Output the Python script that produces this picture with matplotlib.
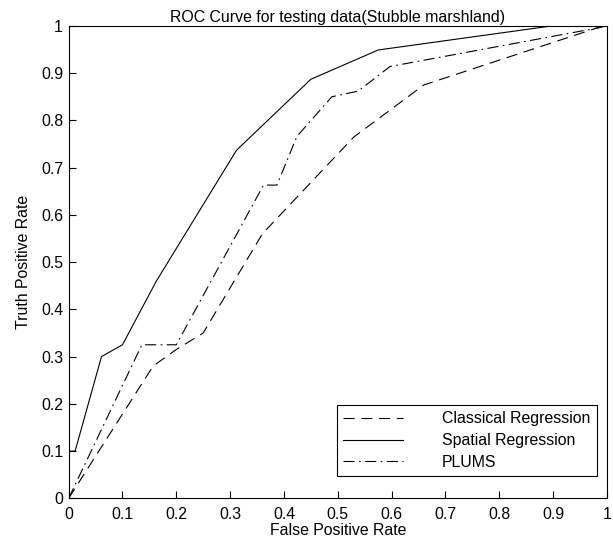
import matplotlib
matplotlib.use('Agg')
import matplotlib.pyplot as plt

plt.rcParams['font.family'] = ['Liberation Sans', 'DejaVu Sans']

# ── data ───────────────────────────────────────────────
classical_fpr = [0, 0.157, 0.2, 0.25, 0.36, 0.53, 0.66, 0.98, 1.0]
classical_tpr = [0, 0.28, 0.315, 0.35, 0.56, 0.765, 0.875, 0.995, 1.0]

spatial_fpr = [0, 0, 0.012, 0.061, 0.1, 0.163, 0.312, 0.45, 0.575, 0.898, 1.0]
spatial_tpr = [0, 0.1, 0.1, 0.3, 0.325, 0.46, 0.737, 0.887, 0.949, 1.0, 1.0]

plums_fpr = [0, 0.136, 0.2, 0.362, 0.387, 0.424, 0.489, 0.538, 0.597, 0.98, 1.0]
plums_tpr = [0, 0.325, 0.325, 0.663, 0.663, 0.766, 0.85, 0.862, 0.914, 0.995, 1.0]

ticks = [0, 0.1, 0.2, 0.3, 0.4, 0.5, 0.6, 0.7, 0.8, 0.9, 1]
tick_labels = ['0', '0.1', '0.2', '0.3', '0.4', '0.5', '0.6', '0.7', '0.8', '0.9', '1']

FS = 11.4
LW = 0.8

fig = plt.figure(figsize=(6.13, 5.43), dpi=100)
ax = fig.add_axes([0.112, 0.0823, 0.878, 0.870])

ax.plot(classical_fpr, classical_tpr, color='black', lw=LW,
        dashes=(10, 6), label='Classical Regression')
ax.plot(spatial_fpr, spatial_tpr, color='black', lw=LW, ls='-',
        label='Spatial Regression')
ax.plot(plums_fpr, plums_tpr, color='black', lw=LW,
        dashes=(10, 4, 1.5, 4), label='PLUMS')

ax.set_xlim(0, 1)
ax.set_ylim(0, 1)
ax.set_xticks(ticks)
ax.set_xticklabels(tick_labels)
ax.set_yticks(ticks)
ax.set_yticklabels(tick_labels)
ax.tick_params(direction='in', length=5, width=0.8, labelsize=FS)
ax.tick_params(axis='x', pad=6)
ax.tick_params(axis='y', pad=4)
for sp in ax.spines.values():
    sp.set_linewidth(0.8)

ax.set_title('ROC Curve for testing data(Stubble marshland)', fontsize=FS, pad=3)
ax.set_xlabel('False Positive Rate', fontsize=FS, labelpad=1)
ax.set_ylabel('Truth Positive Rate', fontsize=FS, labelpad=7)

leg = ax.legend(loc='lower right', bbox_to_anchor=(0.981, 0.047),
                fontsize=FS, handlelength=3.8, handletextpad=2.45,
                labelspacing=0.42, borderpad=0.4, borderaxespad=0,
                fancybox=False, framealpha=1, edgecolor='black')
leg.get_frame().set_linewidth(0.8)

plt.savefig('out.png', dpi=100, facecolor='white')
